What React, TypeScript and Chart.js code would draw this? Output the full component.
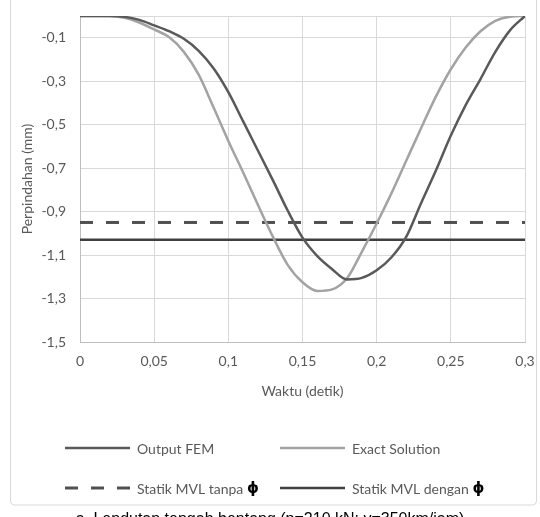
import { useEffect, useRef } from "react";
import { Chart, registerables } from "chart.js";

Chart.register(...registerables);

// Time axis (detik) and mid-span displacement (mm)
const timeSec = [
  0, 0.01, 0.02, 0.03, 0.04, 0.05, 0.06, 0.07, 0.08, 0.09, 0.1, 0.11, 0.12, 0.13, 0.14, 0.15,
  0.16, 0.17, 0.18, 0.19, 0.2, 0.21, 0.22, 0.23, 0.24, 0.25, 0.26, 0.27, 0.28, 0.29, 0.3,
];

const outputFem = [
  0, 0, 0, -0.004, -0.018, -0.043, -0.07, -0.105, -0.16, -0.24, -0.35, -0.485, -0.62, -0.755,
  -0.895, -1.02, -1.105, -1.165, -1.212, -1.205, -1.17, -1.11, -1.015, -0.86, -0.71, -0.55,
  -0.41, -0.29, -0.165, -0.065, 0,
];

const exactSolution = [
  0, 0, 0, -0.008, -0.03, -0.062, -0.097, -0.165, -0.27, -0.42, -0.575, -0.72, -0.87, -1.015,
  -1.145, -1.225, -1.265, -1.258, -1.207, -1.085, -0.955, -0.815, -0.665, -0.515, -0.37, -0.245,
  -0.145, -0.07, -0.022, -0.003, 0,
];

const statikTanpaPhi = -0.95;
const statikDenganPhi = -1.03;

const xTicks = [0, 0.05, 0.1, 0.15, 0.2, 0.25, 0.3];
const xTickLabels = ["0", "0,05", "0,1", "0,15", "0,2", "0,25", "0,3"];
const yTicks = [-1.5, -1.3, -1.1, -0.9, -0.7, -0.5, -0.3, -0.1, 0];
const yTickLabels = ["-1,5", "-1,3", "-1,1", "-0,9", "-0,7", "-0,5", "-0,3", "-0,1", ""];

const seriesLabels = [
  "Output FEM",
  "Exact Solution",
  "Statik MVL tanpa ϕ",
  "Statik MVL dengan ϕ",
];

const caption = "a. Lendutan tengah bentang (p=210 kN; v=350km/jam)";

const FONT = "Lato, 'DejaVu Sans', sans-serif";
const TEXT_COLOR = "#595959";

const toPoints = (ys: number[]) => timeSec.map((t, i) => ({ x: t, y: ys[i] }));
const flatLine = (v: number) => [
  { x: timeSec[0], y: v },
  { x: timeSec[timeSec.length - 1], y: v },
];

// keep the plot area fixed: labels may overhang into the page margins
const noLabelPadding = (scale: any) => {
  scale.paddingLeft = 0;
  scale.paddingRight = 0;
  scale.paddingTop = 0;
  scale.paddingBottom = 0;
};

// Frame, two-column legend and figure caption
const decorPlugin = {
  id: "decor",
  afterDraw(chart: any) {
    const ctx: CanvasRenderingContext2D = chart.ctx;
    ctx.save();

    // outer frame
    ctx.strokeStyle = "#d9d9d9";
    ctx.lineWidth = 1;
    ctx.beginPath();
    (ctx as any).roundRect(10.5, -6, 526, 511, 4);
    ctx.stroke();

    // legend
    const slots = [
      { x: 65, y: 448 },
      { x: 280, y: 448 },
      { x: 65, y: 488 },
      { x: 280, y: 488 },
    ];
    chart.data.datasets.forEach((ds: any, i: number) => {
      const s = slots[i];
      ctx.strokeStyle = ds.borderColor;
      ctx.lineWidth = ds.borderWidth;
      ctx.setLineDash(ds.borderDash || []);
      ctx.lineCap = "butt";
      ctx.beginPath();
      ctx.moveTo(s.x, s.y);
      ctx.lineTo(s.x + 65, s.y);
      ctx.stroke();
      ctx.setLineDash([]);

      ctx.fillStyle = TEXT_COLOR;
      ctx.textBaseline = "middle";
      ctx.textAlign = "left";
      const label: string = ds.label;
      const hasPhi = label.endsWith("ϕ");
      const main = hasPhi ? label.slice(0, -1) : label;
      ctx.font = `14px ${FONT}`;
      ctx.fillText(main, s.x + 72, s.y + 1);
      if (hasPhi) {
        const w = ctx.measureText(main).width;
        ctx.fillStyle = "#000";
        ctx.font = `bold 15px 'DejaVu Sans', sans-serif`;
        ctx.fillText("ϕ", s.x + 72 + w, s.y + 1);
      }
    });

    // caption under the frame
    ctx.fillStyle = "#000";
    ctx.font = "16px 'Liberation Sans', Arial, sans-serif";
    ctx.textAlign = "center";
    ctx.textBaseline = "alphabetic";
    ctx.fillText(caption, 270, 524);

    ctx.restore();
  },
};

export default function App() {
  const canvasRef = useRef<HTMLCanvasElement | null>(null);

  useEffect(() => {
    if (!canvasRef.current) return;
    const chart = new Chart(canvasRef.current, {
      type: "line",
      data: {
        datasets: [
          {
            label: seriesLabels[0],
            data: toPoints(outputFem),
            borderColor: "#595959",
            borderWidth: 2.5,
            pointRadius: 0,
            cubicInterpolationMode: "monotone",
            fill: false,
          },
          {
            label: seriesLabels[1],
            data: toPoints(exactSolution),
            borderColor: "#a3a3a3",
            borderWidth: 2.5,
            pointRadius: 0,
            cubicInterpolationMode: "monotone",
            fill: false,
          },
          {
            label: seriesLabels[2],
            data: flatLine(statikTanpaPhi),
            borderColor: "#505050",
            borderWidth: 3,
            borderDash: [13, 13],
            borderCapStyle: "butt",
            pointRadius: 0,
            fill: false,
          },
          {
            label: seriesLabels[3],
            data: flatLine(statikDenganPhi),
            borderColor: "#404040",
            borderWidth: 2.5,
            pointRadius: 0,
            fill: false,
          },
        ],
      },
      options: {
        animation: false,
        responsive: false,
        devicePixelRatio: 1,
        layout: { padding: { left: 10, right: 15, top: 16, bottom: 0 } },
        plugins: {
          legend: { display: false },
          tooltip: { enabled: false },
        },
        scales: {
          x: {
            type: "linear",
            min: 0,
            max: 0.3,
            afterBuildTicks: (scale: any) => {
              scale.ticks = xTicks.map((v) => ({ value: v }));
            },
            afterFit: (scale: any) => {
              scale.height = 175;
              noLabelPadding(scale);
            },
            ticks: {
              maxRotation: 0,
              autoSkip: false,
              padding: 11,
              color: TEXT_COLOR,
              font: { family: FONT, size: 14 },
              callback: (_v: any, i: number) => xTickLabels[i],
            },
            grid: { color: "#d9d9d9", lineWidth: 1, drawTicks: false },
            border: { color: "#bfbfbf", width: 1 },
            title: {
              display: true,
              text: "Waktu (detik)",
              color: TEXT_COLOR,
              font: { family: FONT, size: 14 },
              padding: { top: 0, bottom: 117 },
            },
          },
          y: {
            type: "linear",
            min: -1.5,
            max: 0,
            afterBuildTicks: (scale: any) => {
              scale.ticks = yTicks.map((v) => ({ value: v }));
            },
            afterFit: (scale: any) => {
              scale.width = 70;
              noLabelPadding(scale);
            },
            ticks: {
              autoSkip: false,
              padding: 14,
              color: TEXT_COLOR,
              font: { family: FONT, size: 14 },
              callback: (_v: any, i: number) => yTickLabels[i],
            },
            grid: { color: "#d9d9d9", lineWidth: 1, drawTicks: false },
            border: { color: "#bfbfbf", width: 1 },
            title: {
              display: true,
              text: "Perpindahan (mm)",
              color: TEXT_COLOR,
              font: { family: FONT, size: 14 },
              padding: { top: 9, bottom: 0 },
            },
          },
        },
      },
      plugins: [decorPlugin],
    } as any);
    return () => chart.destroy();
  }, []);

  return (
    <div style={{ position: "fixed", left: 0, top: 0, width: 540, height: 517, background: "#fff" }}>
      <canvas ref={canvasRef} width={540} height={517} style={{ display: "block" }} />
    </div>
  );
}
